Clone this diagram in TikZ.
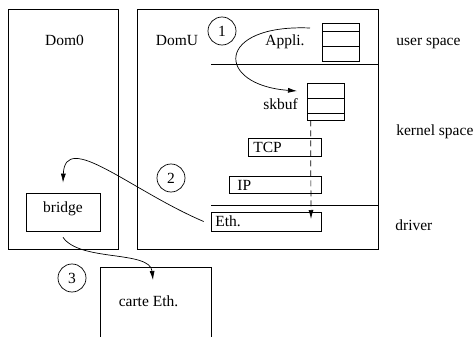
\documentclass[tikz,border=0pt]{standalone}
\usepackage{fontspec}
\setmainfont{Liberation Serif}
\usetikzlibrary{arrows.meta}
\begin{document}
\begin{tikzpicture}[x=1pt,y=-1pt,line width=0.7pt,
    boite/.style={draw,rectangle,inner sep=0pt},
    txt/.style={inner sep=0pt,font=\fontsize{15.5}{18}\selectfont},
    num/.style={draw,circle,minimum size=28pt,inner sep=0pt,font=\fontsize{15.5}{18}\selectfont},
    fleche/.style={-{Latex[length=9pt,width=5pt]}}]
    \useasboundingbox (0,0) rectangle (475,337);
    \node[boite,minimum width=110pt,minimum height=240pt] (dom0) at (63,129) {};%Dom0
    \node[boite,minimum width=241pt,minimum height=240pt] (domU) at (257.5,129) {};%DomU
    \node[txt,anchor=base] (dom0txt) at (64.5,46) {Dom0};
    \node[txt,anchor=base] (domUtxt) at (177,46) {DomU};
    \draw (211,64) -- (378,64);%user / kernel
    \draw (211,205) -- (378,205);%kernel / driver
    % piles
    \node[boite,minimum width=37pt,minimum height=38pt] (appli) at (340.5,42) {};
    \draw (322,31.7) -- (359,31.7);
    \draw (322,46.7) -- (359,46.7);
    \node[txt,anchor=base] (applitxt) at (285,46) {Appli.};
    \node[boite,minimum width=37pt,minimum height=37pt] (skbuf) at (325.5,101.5) {};
    \draw (307,98) -- (344,98);
    \draw (307,113) -- (344,113);
    \node[txt,anchor=base] (skbuftxt) at (280.5,110) {skbuf};
    % couches
    \node[boite,minimum width=73pt,minimum height=18pt] (tcp) at (284.5,147) {};
    \node[txt,anchor=base west] (tcptxt) at (253,153) {TCP};
    \node[boite,minimum width=92pt,minimum height=17pt] (ip) at (275,184.5) {};
    \node[txt,anchor=base west] (iptxt) at (237,190) {IP};
    \node[boite,minimum width=110pt,minimum height=19pt] (eth) at (266,221.5) {};
    \node[txt,anchor=base west] (ethtxt) at (215,227) {Eth.};
    \node[boite,minimum width=74pt,minimum height=38pt] (bridge) at (63,212) {};
    \node[txt,anchor=base] (bridgetxt) at (63,213) {bridge};
    \draw (100,340) -- (100,267) -- (211,267) -- (211,340);%carte
    \node[txt,anchor=base] (carte) at (148.5,306.5) {carte Eth.};
    % etiquettes
    \node[txt,anchor=base west] (user) at (396,46) {user space};
    \node[txt,anchor=base west] (kernel) at (396,136) {kernel space};
    \node[txt,anchor=base west] (driver) at (395,230) {driver};
    \node[num] (n1) at (222,31) {1};
    \node[num] (n2) at (171,178) {2};
    \node[num] (n3) at (72,278) {3};
    % fleches
    \coordinate (c1a) at (310,28);
    \coordinate (c1b) at (297,91);
    \draw[fleche] (c1a) .. controls (215,24) and (215,85) .. (c1b);
    \coordinate (c2a) at ([xshift=-7pt]eth.west);
    \coordinate (c2b) at ([yshift=10pt]bridge.north);
    \draw[fleche] (c2a) .. controls (130,190) and (65,130) .. (c2b);
    \coordinate (c3a) at ([yshift=-6pt]bridge.south);
    \coordinate (c3b) at (153,280);
    \draw[fleche] (c3a) .. controls (80,262) and (150,250) .. (c3b);
    \coordinate (d1) at ([xshift=4pt]skbuf.south west);
    \coordinate (d2) at (311,219);
    \draw[fleche,dash pattern=on 6pt off 4pt] (d1) -- (d2);
\end{tikzpicture}
\end{document}
